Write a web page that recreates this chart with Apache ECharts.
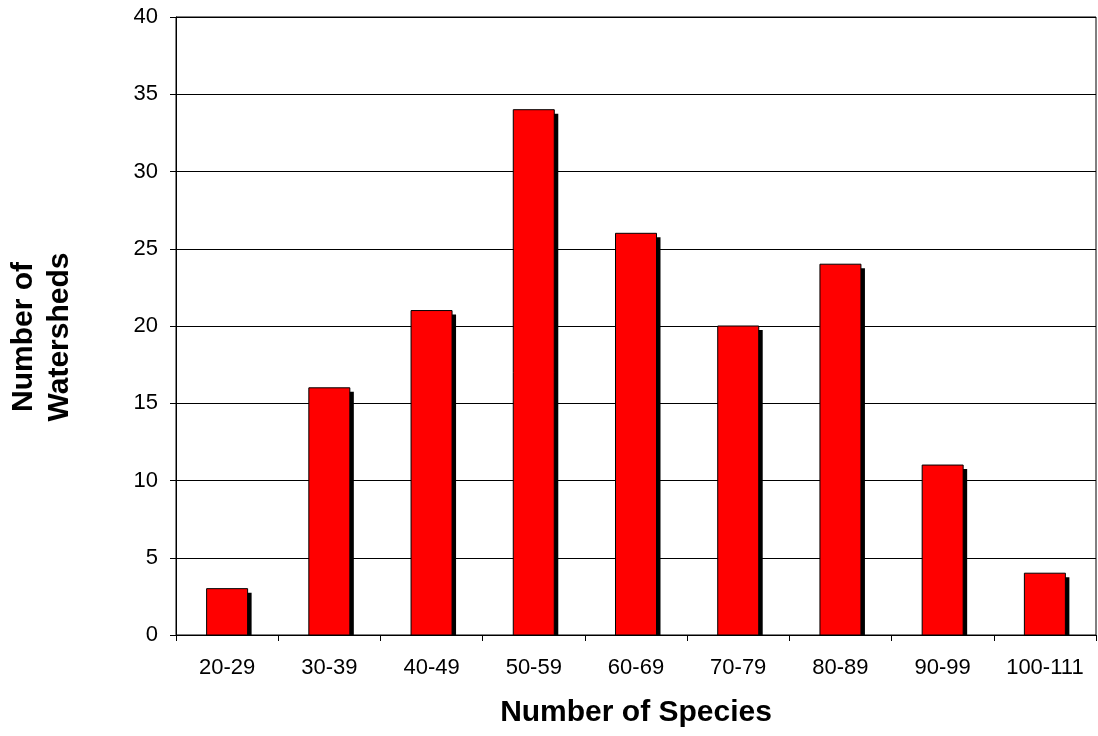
<!DOCTYPE html>
<html><head><meta charset="utf-8">
<script src="https://cdn.jsdelivr.net/npm/echarts@6/dist/echarts.min.js"></script>
<style>html,body{margin:0;padding:0;background:#fff}#c{width:1098px;height:736px}</style>
</head><body><div id="c"></div>
<script>
const categories = ['20-29','30-39','40-49','50-59','60-69','70-79','80-89','90-99','100-111'];
const values = [3,16,21,34,26,20,24,11,4];
const FONT = 'Arial, "Liberation Sans", sans-serif';
const chart = echarts.init(document.getElementById('c'), null, {renderer:'canvas'});
chart.setOption({
  animation:false,
  backgroundColor:'#fff',
  grid:{left:176,right:2,top:17,bottom:101,show:true,borderColor:'#000',borderWidth:1},
  xAxis:{
    type:'category', data:categories,
    axisLine:{lineStyle:{color:'#000',width:1}},
    axisTick:{show:true,alignWithLabel:false,interval:0,length:6,lineStyle:{color:'#000'}},
    axisLabel:{color:'#000',fontFamily:FONT,fontSize:22,margin:22,interval:0},
    name:'Number of Species', nameLocation:'middle', nameGap:63,
    nameTextStyle:{color:'#000',fontFamily:FONT,fontSize:30,fontWeight:'bold'}
  },
  yAxis:{
    type:'value', min:0, max:40, interval:5,
    axisLine:{show:true,lineStyle:{color:'#000',width:1}},
    axisTick:{show:true,length:6,lineStyle:{color:'#000'}},
    splitLine:{show:true,lineStyle:{color:'#000',width:1}},
    axisLabel:{color:'#000',fontFamily:FONT,fontSize:22,margin:18}
  },
  graphic:[{
    type:'text', x:42, y:337, rotation:Math.PI/2,
    style:{text:'Number of\nWatersheds', fill:'#000', font:'bold 30px '+FONT,
      align:'center', verticalAlign:'middle', lineHeight:36}
  }],
  series:[{
    type:'custom',
    data:values.map((v,i)=>[i,v]),
    encode:{x:0,y:1},
    renderItem:function(params, api){
      const idx = api.value(0), val = api.value(1);
      const top = api.coord([idx, val]);
      const base = api.coord([idx, 0]);
      const w = 41;
      const x = top[0] - w/2;
      const h = base[1] - top[1];
      return {type:'group', children:[
        {type:'rect', shape:{x:x+4, y:top[1]+4, width:w, height:Math.max(0,h-4)},
          style:{fill:'#000'}},
        {type:'rect', shape:{x:x, y:top[1], width:w, height:h},
          style:{fill:'#ff0000', stroke:'#000', lineWidth:1}}
      ]};
    }
  }]
});
</script></body></html>
